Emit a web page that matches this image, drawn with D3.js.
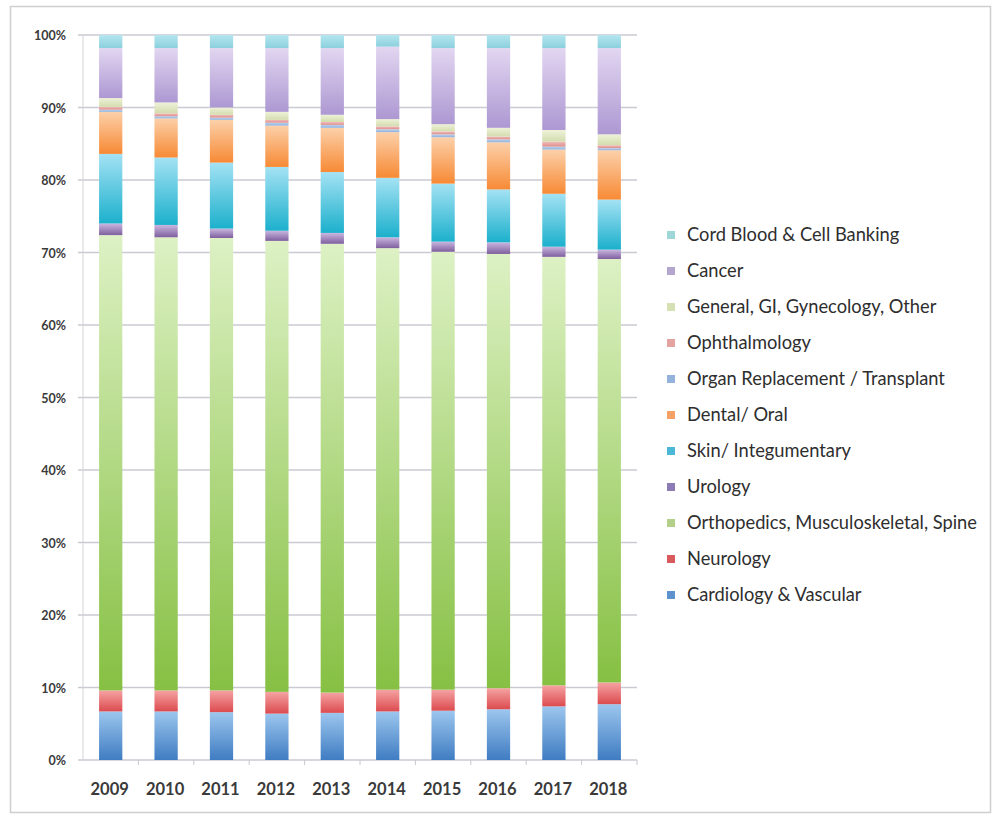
<!DOCTYPE html>
<html lang="en">
<head>
  <meta charset="UTF-8">
  <title>Stacked 100% column chart</title>
  <script src="https://cdn.jsdelivr.net/npm/d3@7"></script>
  <style>
    html, body {
      margin: 0;
      padding: 0;
      background: #fff;
    }
    .tick-label {
      font-family: Lato, "Open Sans", sans-serif;
      fill: #3a3a3a;
    }
    .legend text {
      font-family: Lato, "Open Sans", sans-serif;
      font-size: 18.3px;
      fill: #2e2e2e;
    }
  </style>
</head>
<body>
<div class="chart-area"></div>
<script>
  const years = ['2009', '2010', '2011', '2012', '2013', '2014', '2015', '2016', '2017', '2018']
  const yTicks = [0, 0.1, 0.2, 0.3, 0.4, 0.5, 0.6, 0.7, 0.8, 0.9, 1]

  // series, bottom of the stack first
  const seriesNames = [
    'Cardiology & Vascular',
    'Neurology',
    'Orthopedics, Musculoskeletal, Spine',
    'Urology',
    'Skin/ Integumentary',
    'Dental/ Oral',
    'Organ Replacement / Transplant',
    'Ophthalmology',
    'General, GI, Gynecology, Other',
    'Cancer',
    'Cord Blood & Cell Banking'
  ]

  // share of each year, in %
  const cardiology = [6.7, 6.7, 6.6, 6.4, 6.5, 6.7, 6.8, 7.0, 7.4, 7.7]
  const neurology = [2.9, 2.9, 3.0, 3.0, 2.8, 3.0, 2.9, 2.9, 2.9, 3.0]
  const orthopedics = [62.8, 62.5, 62.4, 62.2, 61.9, 60.9, 60.4, 59.9, 59.1, 58.4]
  const urology = [1.6, 1.7, 1.3, 1.4, 1.5, 1.5, 1.4, 1.6, 1.4, 1.3]
  const skin = [9.6, 9.3, 9.1, 8.8, 8.4, 8.2, 8.0, 7.3, 7.3, 6.9]
  const dental = [5.8, 5.4, 5.9, 5.7, 6.1, 6.3, 6.4, 6.5, 6.1, 6.8]
  const organ = [0.3, 0.3, 0.3, 0.4, 0.4, 0.4, 0.4, 0.4, 0.4, 0.3]
  const ophthalmology = [0.4, 0.4, 0.4, 0.4, 0.4, 0.4, 0.4, 0.4, 0.7, 0.4]
  const general = [1.2, 1.5, 1.0, 1.1, 1.0, 1.0, 1.0, 1.2, 1.6, 1.5]
  const cancer = [6.9, 7.5, 8.2, 8.8, 9.2, 10.0, 10.5, 11.0, 11.3, 11.9]
  const cordBlood = [1.8, 1.8, 1.8, 1.8, 1.8, 1.6, 1.8, 1.8, 1.8, 1.8]

  const seriesValues = [cardiology, neurology, orthopedics, urology, skin, dental,
    organ, ophthalmology, general, cancer, cordBlood]

  // [light top, darker bottom] per series
  const colors = [
    ['#9cc6ee', '#3f7cc2'],
    ['#f5a3a3', '#dc4b4f'],
    ['#ddf1c4', '#86c043'],
    ['#c9b7e0', '#7f5f9e'],
    ['#a4e2f4', '#1cb0cc'],
    ['#fcd0a9', '#f78a35'],
    ['#bcd3ef', '#8fb0da'],
    ['#f2bdbb', '#dc8f8c'],
    ['#eef2d8', '#d3dcae'],
    ['#e2d6f1', '#ad98d2'],
    ['#b4e6ee', '#8bd0de']
  ]
  const legendColors = ['#5d92cf', '#d9595c', '#b3cf8a', '#8d7bb5', '#4cb8d8', '#f5a064',
    '#93b2dc', '#e3a3a1', '#d5e0b5', '#b2a6cf', '#9fd7d9']

  const width = 992,
    height = 814,
    plotLeft = 83,
    plotRight = 637,
    plotTop = 35,
    plotBottom = 760

  const table = years.map(function (year, i) {
    const row = { year: year }
    seriesNames.forEach(function (name, s) { row[name] = seriesValues[s][i] })
    return row
  })

  const stack = d3.stack()
    .keys(seriesNames)
    .offset(d3.stackOffsetExpand)
  const layers = stack(table)

  const x = d3.scaleBand()
    .domain(years)
    .range([plotLeft, plotRight])
    .paddingInner(0.58)
    .paddingOuter(0.29)

  const y = d3.scaleLinear()
    .domain([0, 1])
    .range([plotBottom, plotTop])

  const svg = d3.select('.chart-area')
    .append('svg')
    .attr('width', width)
    .attr('height', height)
    .style('display', 'block')

  // gradients, light at the top of each segment
  const defs = svg.append('defs')
  colors.forEach(function (c, i) {
    const grad = defs.append('linearGradient')
      .attr('id', 'grad' + i)
      .attr('x1', '0%').attr('x2', '0%')
      .attr('y1', '0%').attr('y2', '100%')
    grad.append('stop').attr('offset', '0%').style('stop-color', c[0])
    grad.append('stop').attr('offset', '100%').style('stop-color', c[1])
  })

  // outer frame
  svg.append('rect')
    .attr('x', 10.5)
    .attr('y', 6.5)
    .attr('width', 980)
    .attr('height', 806)
    .attr('fill', 'none')
    .attr('stroke', '#cfcfcf')
    .attr('stroke-width', 1.5)

  // grid lines
  svg.append('g')
    .attr('class', 'grid')
    .selectAll('line')
    .data(yTicks)
    .join('line')
    .attr('x1', plotLeft - 5)
    .attr('x2', plotRight)
    .attr('y1', d => y(d))
    .attr('y2', d => y(d))
    .attr('stroke', '#cacad2')
    .attr('stroke-width', 1.3)

  // y axis line
  svg.append('line')
    .attr('x1', plotLeft).attr('x2', plotLeft)
    .attr('y1', plotTop).attr('y2', plotBottom)
    .attr('stroke', '#d4d4d8')
    .attr('stroke-width', 1)

  // y tick labels
  svg.append('g')
    .selectAll('text')
    .data(yTicks)
    .join('text')
    .attr('class', 'tick-label')
    .attr('x', 66)
    .attr('y', d => y(d) + 5)
    .attr('text-anchor', 'end')
    .attr('font-size', '12.5px')
    .attr('font-weight', '700')
    .text(d3.format('.0%'))

  // x axis ticks between categories
  const boundaries = years.map(d => x(d) - x.step() * x.paddingInner() / 2)
  boundaries.push(plotRight)
  svg.append('g')
    .selectAll('line')
    .data(boundaries.slice(1))
    .join('line')
    .attr('x1', d => d).attr('x2', d => d)
    .attr('y1', plotBottom).attr('y2', plotBottom + 5)
    .attr('stroke', '#c8c8d0')

  // bars
  svg.append('g')
    .selectAll('g')
    .data(layers)
    .join('g')
    .attr('fill', (d, i) => 'url(#grad' + i + ')')
    .selectAll('rect')
    .data(d => d)
    .join('rect')
    .attr('x', d => x(d.data.year))
    .attr('width', x.bandwidth())
    .attr('y', d => y(d[1]))
    .attr('height', d => y(d[0]) - y(d[1]))

  // x tick labels
  svg.append('g')
    .selectAll('text')
    .data(years)
    .join('text')
    .attr('class', 'tick-label')
    .attr('x', d => x(d) + x.bandwidth() / 2 - 1)
    .attr('y', 795)
    .attr('text-anchor', 'middle')
    .attr('font-size', '16.5px')
    .attr('font-weight', '700')
    .text(d => d)

  // legend, top row is the top of the stack
  const legendOrder = seriesNames.map((d, i) => i).reverse()
  const legend = svg.append('g')
    .attr('class', 'legend')
    .selectAll('g')
    .data(legendOrder)
    .join('g')
    .attr('transform', (d, i) => 'translate(667,' + (235 + i * 36) + ')')

  legend.append('rect')
    .attr('x', 0)
    .attr('y', -4)
    .attr('width', 8)
    .attr('height', 8)
    .attr('fill', d => legendColors[d])

  legend.append('text')
    .attr('x', 20)
    .attr('y', 6)
    .text(d => seriesNames[d])
</script>
</body>
</html>
